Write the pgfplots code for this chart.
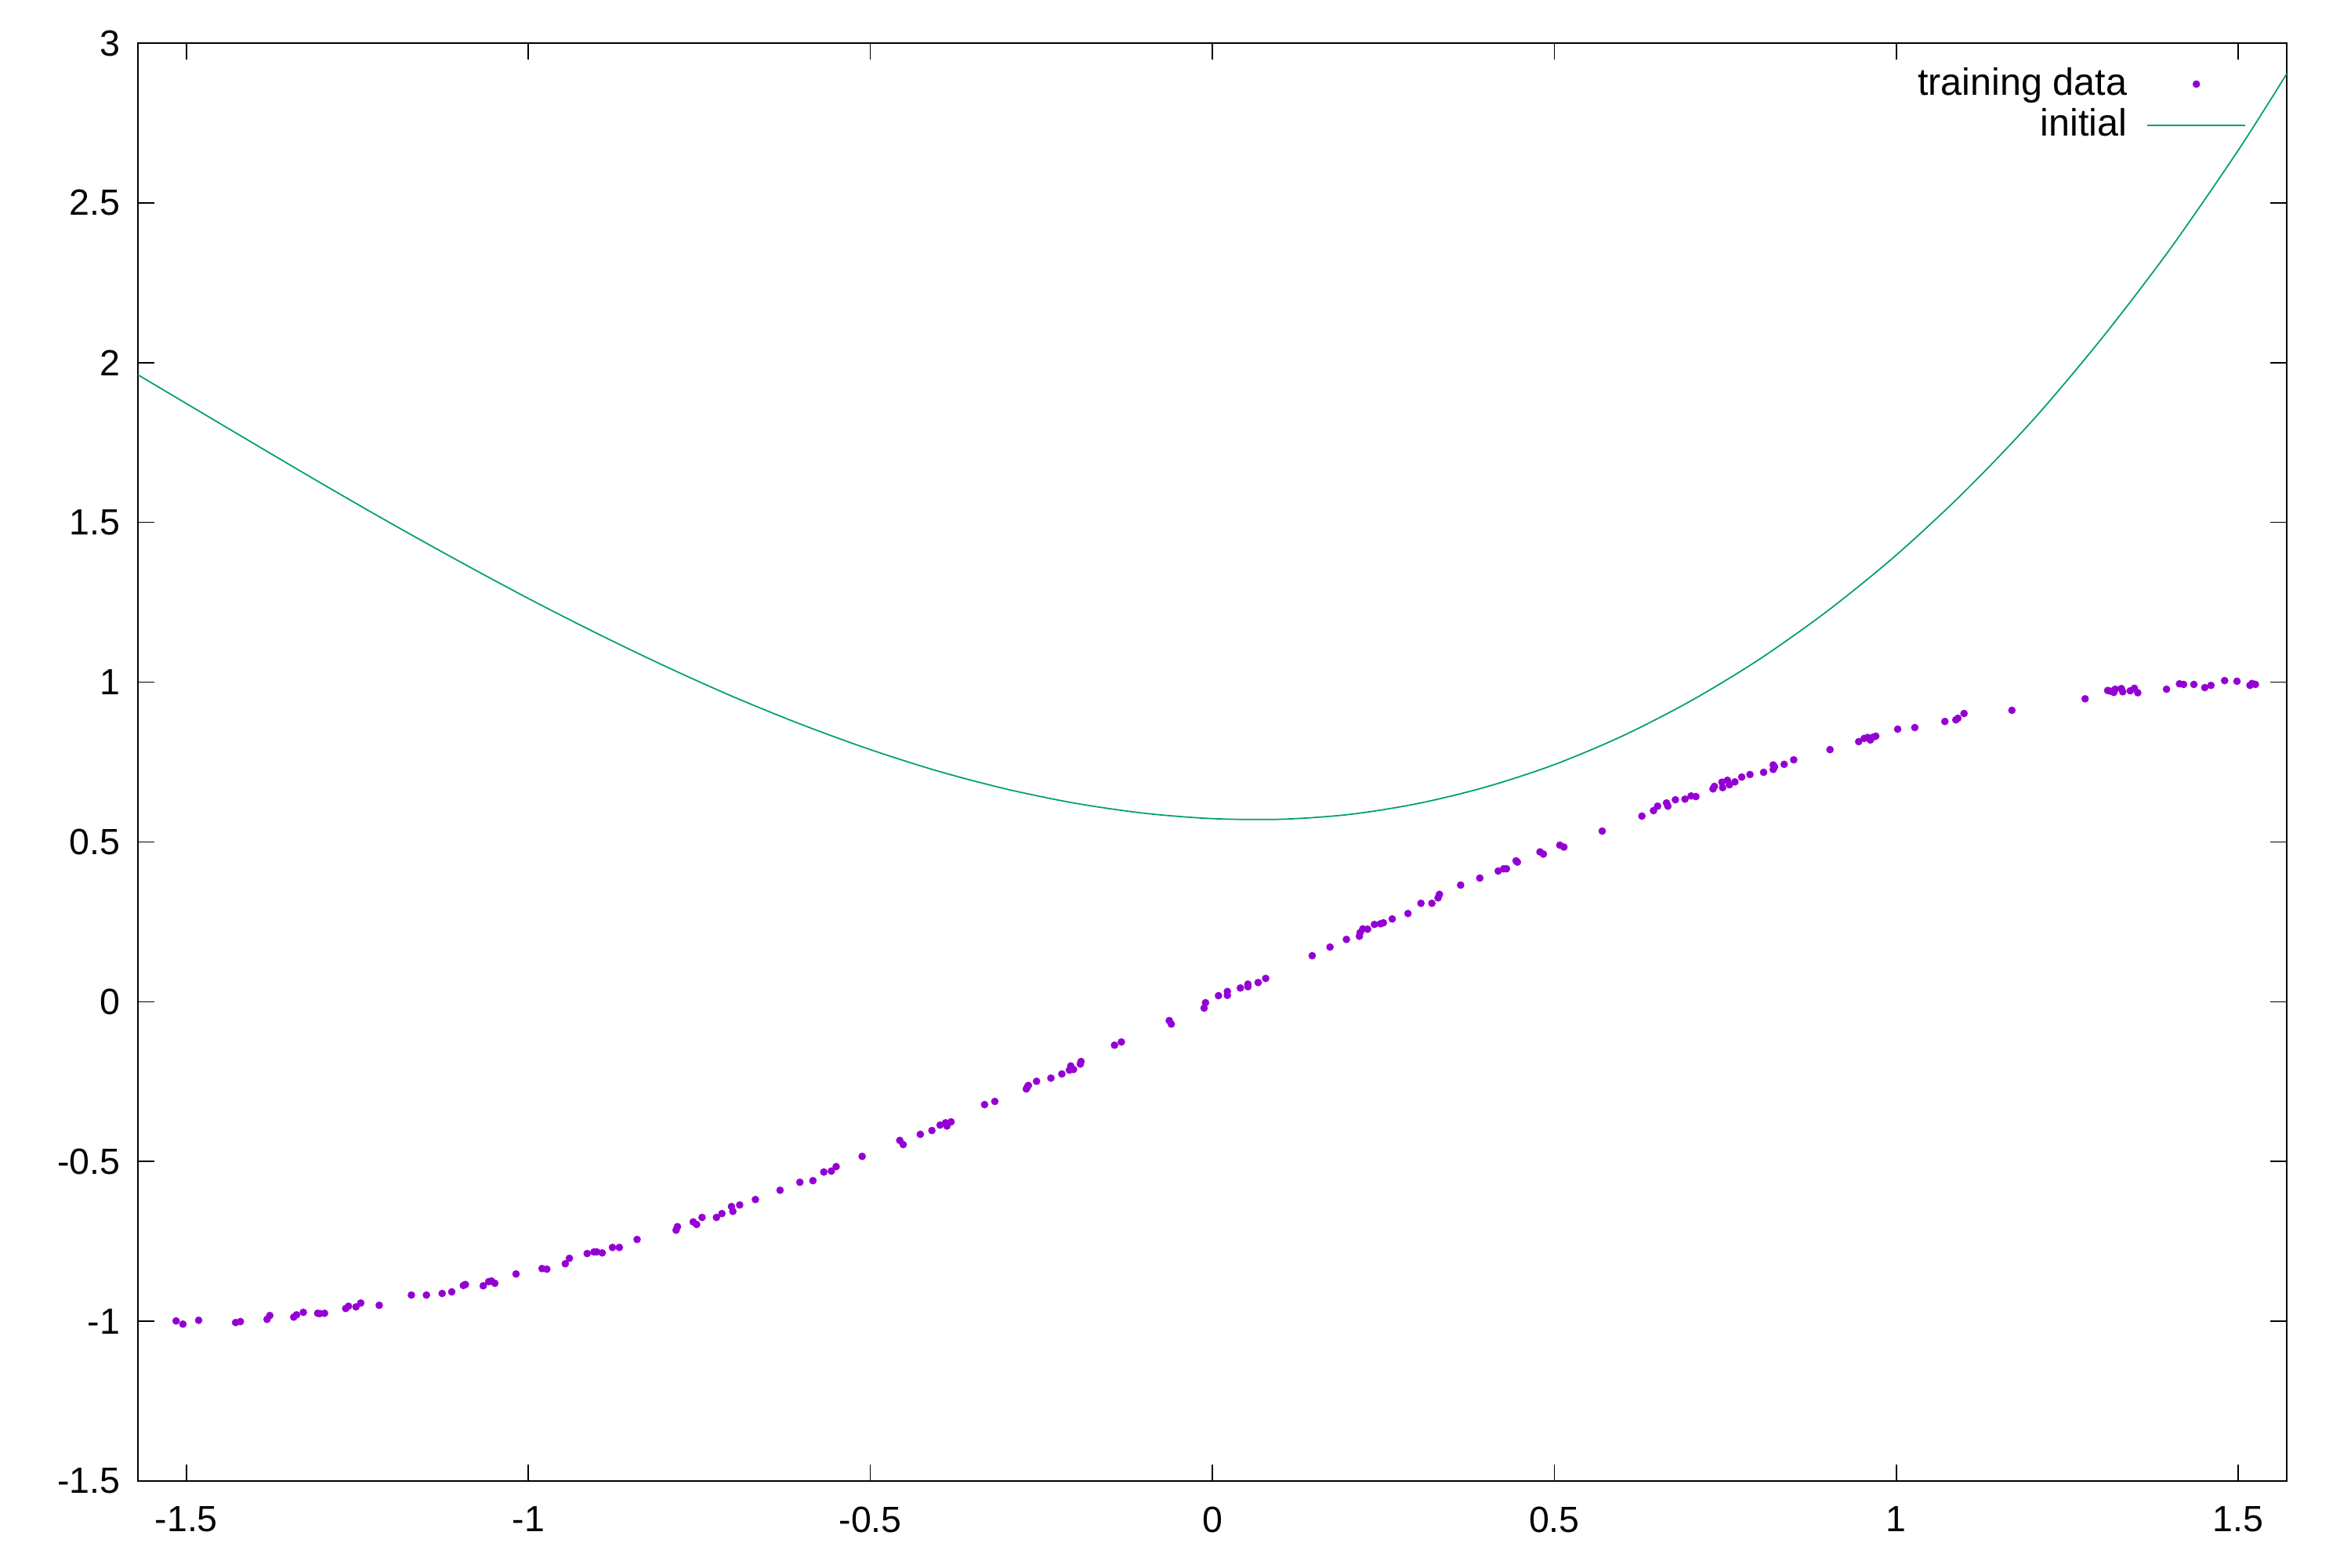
\documentclass[border=0pt]{standalone}
\usepackage{fontspec}
\setmainfont{Liberation Sans}
\usepackage{pgfplots}
\pgfplotsset{compat=1.18}
\definecolor{gpurple}{HTML}{9400D3}
\definecolor{ggreen}{HTML}{009E73}
\pgfplotsset{
  dotlegend/.style={legend image code/.code={\path (0pt,0pt); \draw[mark repeat=2,mark phase=2,##1] plot coordinates {(3pt,0pt) (15.5pt,0pt) (28pt,0pt)};}},
  linelegend/.style={legend image code/.code={\path (0pt,0pt); \draw[##1] (3pt,0pt) -- (28pt,0pt);}},
}
\begin{document}
\begin{tikzpicture}
\path[use as bounding box] (-35.2pt,-22pt) rectangle (564.8pt,378pt);
\begin{axis}[
 at={(0pt,0pt)}, anchor=south west,
 scale only axis, width=548.4pt, height=367pt,
 xmin=-1.5708, xmax=1.5708, ymin=-1.5, ymax=3,
 xtick={-1.5,-1,-0.5,0,0.5,1,1.5},
 ytick={-1.5,-1,-0.5,0,0.5,1,1.5,2,2.5,3},
 tick align=inside, major tick length=4.2pt,
 tick style={black, line width=0.3pt},
 axis line style={line width=0.4pt},
 /pgf/number format/assume math mode=true,
 ticklabel style={font=\fontsize{9.3}{11}\selectfont},
 xticklabel style={yshift=-3pt},
 yticklabel style={xshift=-1pt},
 legend style={at={(1,1)}, anchor=north east, draw=none, fill=none,
   font=\fontsize{9.7}{11}\selectfont, xshift=-7.2pt, yshift=-2pt, row sep=-2pt},
 legend cell align=right, legend plot pos=right,
]
\addplot[only marks, mark=*, mark size=0.75pt, color=gpurple, dotlegend]
coordinates {
(-1.515,-0.999) (-1.505,-1.009) (-1.482,-0.997) (-1.428,-1.004) (-1.421,-1.001)
(-1.382,-0.994) (-1.378,-0.982) (-1.343,-0.987) (-1.339,-0.980) (-1.329,-0.972)
(-1.308,-0.975) (-1.305,-0.976) (-1.298,-0.975) (-1.267,-0.960) (-1.263,-0.953)
(-1.252,-0.955) (-1.245,-0.943) (-1.218,-0.950) (-1.171,-0.918) (-1.149,-0.918)
(-1.126,-0.913) (-1.112,-0.908) (-1.095,-0.888) (-1.092,-0.885) (-1.066,-0.889)
(-1.058,-0.876) (-1.054,-0.874) (-1.049,-0.881) (-1.018,-0.852) (-0.980,-0.835)
(-0.973,-0.837) (-0.946,-0.820) (-0.940,-0.803)
(-0.914,-0.788) (-0.904,-0.783) (-0.900,-0.783) (-0.892,-0.786) (-0.877,-0.769)
(-0.867,-0.769) (-0.841,-0.744) (-0.784,-0.715) (-0.782,-0.704) (-0.759,-0.689)
(-0.754,-0.697) (-0.746,-0.675) (-0.725,-0.675) (-0.717,-0.663) (-0.703,-0.641)
(-0.701,-0.656) (-0.691,-0.636) (-0.668,-0.619) (-0.632,-0.590) (-0.603,-0.565)
(-0.584,-0.560) (-0.568,-0.533) (-0.557,-0.530) (-0.550,-0.516) (-0.512,-0.484)
(-0.457,-0.434) (-0.452,-0.447) (-0.427,-0.415) (-0.410,-0.403) (-0.398,-0.386)
(-0.390,-0.379) (-0.388,-0.389) (-0.382,-0.376) (-0.333,-0.322) (-0.318,-0.312)
(-0.272,-0.273) (-0.270,-0.265) (-0.269,-0.262) (-0.257,-0.249) (-0.236,-0.239)
(-0.220,-0.226) (-0.209,-0.214) (-0.207,-0.201) (-0.203,-0.212) (-0.193,-0.195)
(-0.192,-0.187) (-0.143,-0.136) (-0.133,-0.126) (-0.063,-0.059) (-0.060,-0.070)
(-0.012,-0.020) (-0.010,-0.003) (0.009,0.019) (0.022,0.032) (0.022,0.020)
(0.041,0.043) (0.052,0.055) (0.052,0.047) (0.067,0.060) (0.078,0.073)
(0.146,0.144) (0.172,0.171) (0.196,0.195) (0.215,0.205) (0.216,0.216)
(0.220,0.228) (0.227,0.227) (0.237,0.242) (0.246,0.244) (0.250,0.247)
(0.263,0.259) (0.286,0.276) (0.305,0.308)
(0.321,0.308) (0.330,0.325) (0.332,0.336) (0.363,0.365) (0.391,0.387)
(0.418,0.409) (0.426,0.416) (0.430,0.416) (0.444,0.441) (0.446,0.437)
(0.479,0.469) (0.484,0.462) (0.508,0.490) (0.514,0.484) (0.570,0.534)
(0.628,0.581) (0.645,0.598) (0.651,0.612) (0.664,0.622) (0.666,0.612)
(0.677,0.632) (0.691,0.634) (0.700,0.644) (0.707,0.642) (0.732,0.666)
(0.734,0.674) (0.745,0.687) (0.746,0.670) (0.753,0.693) (0.756,0.679)
(0.764,0.688) (0.774,0.703) (0.786,0.711) (0.806,0.718) (0.820,0.727)
(0.820,0.741) (0.822,0.735) (0.836,0.743) (0.850,0.757) (0.903,0.789)
(0.945,0.814) (0.953,0.824) (0.958,0.827) (0.962,0.819) (0.966,0.828)
(0.970,0.831) (1.002,0.853) (1.027,0.858) (1.071,0.877) (1.087,0.882)
(1.090,0.887) (1.099,0.902) (1.169,0.912) (1.276,0.948) (1.309,0.974)
(1.313,0.972) (1.318,0.968) (1.320,0.978) (1.329,0.980) (1.331,0.970)
(1.342,0.973) (1.348,0.981) (1.353,0.967) (1.395,0.978) (1.414,0.995)
(1.420,0.993) (1.435,0.993) (1.451,0.983) (1.460,0.990) (1.480,1.005)
(1.498,1.003) (1.517,0.990) (1.520,0.996) (1.525,0.993)
};
\addlegendentry{training data}
\addplot[color=ggreen, line width=0.35pt, smooth, no marks, linelegend]
coordinates {
(-1.5708,1.962) (-1.5,1.872) (-1.4,1.745) (-1.3,1.619) (-1.2,1.496)
(-1.1,1.377) (-1.0,1.262) (-0.9,1.153) (-0.8,1.050) (-0.7,0.954)
(-0.6,0.867) (-0.5,0.789) (-0.4,0.721) (-0.3,0.665) (-0.2,0.621)
(-0.1,0.590) (0,0.573) (0.1,0.571) (0.2,0.586) (0.3,0.620)
(0.4,0.672) (0.5,0.742) (0.6,0.832) (0.7,0.942) (0.8,1.072)
(0.9,1.224) (1.0,1.398) (1.1,1.597) (1.2,1.821) (1.3,2.075)
(1.4,2.355) (1.5,2.665) (1.5708,2.904)
};
\addlegendentry{initial}
\end{axis}
\end{tikzpicture}
\end{document}
